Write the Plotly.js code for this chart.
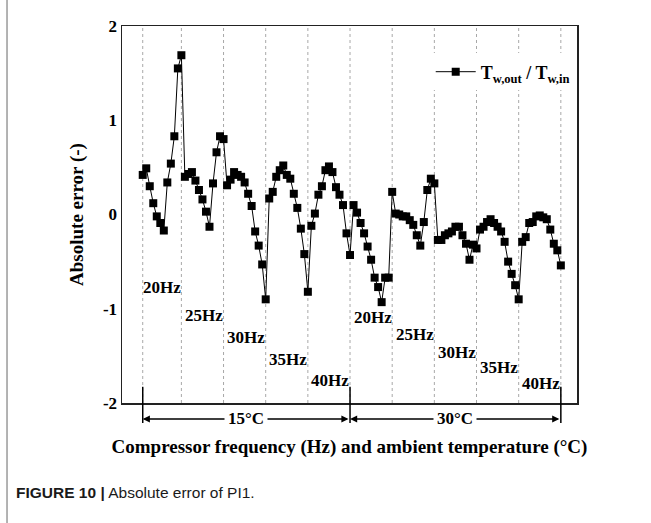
<!DOCTYPE html>
<html>
<head>
<meta charset="utf-8">
<script src="https://cdn.plot.ly/plotly-3.0.1.min.js"></script>
<style>html,body{margin:0;padding:0;background:#fff;}#chart{width:651px;height:523px;}</style>
</head>
<body>
<div id="chart"></div>
<script>
// ---- data ----
const ambientTemps = ['15°C', '30°C'];
const freqLabels = ['20Hz', '25Hz', '30Hz', '35Hz', '40Hz'];
const seriesName = 'T<sub>w,out</sub> / T<sub>w,in</sub>';
const yTickVals = [-2, -1, 0, 1, 2];
const yTickLabels = ['-2', '-1', '0', '1', '2'];

const err15_20 = [0.42, 0.49, 0.30, 0.12, -0.02, -0.09, -0.17, 0.34, 0.54, 0.83, 1.55, 1.69];
const err15_25 = [0.40, 0.43, 0.45, 0.36, 0.26, 0.16, 0.03, -0.13, 0.33, 0.66, 0.83, 0.80];
const err15_30 = [0.31, 0.37, 0.45, 0.42, 0.40, 0.34, 0.22, 0.09, -0.18, -0.33, -0.53, -0.90];
const err15_35 = [0.17, 0.24, 0.40, 0.47, 0.52, 0.42, 0.38, 0.22, 0.07, -0.15, -0.42, -0.82];
const err15_40 = [-0.12, 0.01, 0.21, 0.30, 0.47, 0.51, 0.45, 0.29, 0.21, 0.10, -0.20, -0.43];
const err30_20 = [0.10, 0.02, -0.09, -0.20, -0.34, -0.48, -0.67, -0.77, -0.93, -0.67, -0.67, 0.24];
const err30_25 = [0.01, 0.00, -0.02, -0.02, -0.06, -0.11, -0.22, -0.33, -0.08, 0.26, 0.38, 0.33];
const err30_30 = [-0.27, -0.27, -0.22, -0.20, -0.18, -0.13, -0.13, -0.22, -0.31, -0.48, -0.32, -0.36];
const err30_35 = [-0.16, -0.13, -0.08, -0.05, -0.09, -0.13, -0.18, -0.29, -0.50, -0.63, -0.75, -0.90];
const err30_40 = [-0.29, -0.24, -0.09, -0.08, -0.02, -0.01, -0.03, -0.05, -0.16, -0.31, -0.38, -0.54];

// ---- build ----
const segments = [err15_20, err15_25, err15_30, err15_35, err15_40,
                  err30_20, err30_25, err30_30, err30_35, err30_40];
const xs = [], ys = [];
const segEnds = [0];
let idx = 0;
segments.forEach(seg => {
  seg.forEach(v => { xs.push(idx); ys.push(v); idx++; });
  segEnds.push(idx - 1);
});
const lastIdx = idx - 1;

const serif = 'Liberation Serif, Times New Roman, serif';
const black = '#000';

const shapes = [];
segEnds.forEach(x => shapes.push({
  type: 'line', xref: 'x', yref: 'paper', x0: x, x1: x, y0: 0, y1: 1,
  line: {color: '#a8a8a8', width: 1, dash: 'dot'}, layer: 'below'
}));
// temperature bracket ticks
const tempBounds = [0, segEnds[5], lastIdx];
tempBounds.forEach(x => shapes.push({
  type: 'line', xref: 'x', yref: 'paper', x0: x, x1: x, y0: -0.053, y1: 0.043,
  line: {color: black, width: 1.5}
}));
// left page border line
shapes.push({type: 'line', xref: 'paper', yref: 'paper', x0: -0.2527, x1: -0.2527, y0: -0.33, y1: 1.08,
  line: {color: '#9a9a9a', width: 1.5}});

const annotations = [];
// frequency labels
const labelY = [[-0.77, -1.07, -1.30, -1.54, -1.76], [-1.09, -1.27, -1.46, -1.62, -1.79]];
ambientTemps.forEach((t, ti) => {
  freqLabels.forEach((f, fi) => {
    annotations.push({
      x: segEnds[ti * 5 + fi + 1] + 0.4, y: labelY[ti][fi], xref: 'x', yref: 'y',
      text: f, showarrow: false, xanchor: 'right', yanchor: 'middle',
      font: {family: serif, size: 17, color: black, weight: 'bold'}
    });
  });
});
// temperature arrows and labels
ambientTemps.forEach((t, ti) => {
  const a = tempBounds[ti], b = tempBounds[ti + 1];
  annotations.push({
    x: a, y: -0.0424, xref: 'x', yref: 'paper', ax: b, ay: 0, axref: 'x', ayref: 'pixel',
    text: '', showarrow: true, arrowhead: 2, arrowside: 'end+start', arrowsize: 1.1, arrowwidth: 1.3,
    arrowcolor: black, standoff: 0, startstandoff: 0
  });
});
ambientTemps.forEach((t, ti) => {
  const a = tempBounds[ti], b = tempBounds[ti + 1];
  annotations.push({
    x: (a + b) / 2, y: -0.0424, xref: 'x', yref: 'paper', text: t, showarrow: false,
    bgcolor: '#fff', borderpad: 3, xanchor: 'center', yanchor: 'middle',
    font: {family: serif, size: 17, color: black, weight: 'bold'}
  });
});
// caption
annotations.push({
  x: -0.2374, y: -0.2387, xref: 'paper', yref: 'paper', xanchor: 'left', yanchor: 'middle',
  showarrow: false, text: '<b>FIGURE 10 |</b> Absolute error of PI1.',
  font: {family: 'Liberation Sans, Arial, sans-serif', size: 15.5, color: '#1a1a1a'}
});

const trace = {
  x: xs, y: ys, type: 'scatter', mode: 'lines+markers', name: seriesName,
  line: {color: black, width: 1},
  marker: {symbol: 'square', size: 8, color: black}
};

const layout = {
  width: 651, height: 523,
  margin: {l: 122, r: 74, t: 26, b: 120},
  paper_bgcolor: '#fff', plot_bgcolor: '#fff',
  showlegend: true,
  legend: {
    x: 0.995, y: 0.878, xanchor: 'right', yanchor: 'middle', bgcolor: '#fff', itemwidth: 40,
    font: {family: serif, size: 18, color: black, weight: 'bold'}
  },
  xaxis: {
    range: [-5.9, 123.6], showticklabels: false, ticks: '', showgrid: false, zeroline: false,
    showline: true, mirror: true, linecolor: '#222', linewidth: 1.5,
    title: {text: 'Compressor frequency (Hz) and ambient temperature (°C)', standoff: 36,
      font: {family: serif, size: 19, color: black, weight: 'bold'}}
  },
  yaxis: {
    range: [-2, 2], tickvals: yTickVals, ticktext: yTickLabels, ticks: '', showgrid: false, zeroline: false,
    showline: true, mirror: true, linecolor: '#222', linewidth: 1.5,
    tickfont: {family: serif, size: 17, color: black, weight: 'bold'},
    title: {text: 'Absolute error (-)', standoff: 14,
      font: {family: serif, size: 19, color: black, weight: 'bold'}}
  },
  shapes: shapes,
  annotations: annotations
};

Plotly.newPlot('chart', [trace], layout, {displayModeBar: false, staticPlot: true});
</script>
</body>
</html>
